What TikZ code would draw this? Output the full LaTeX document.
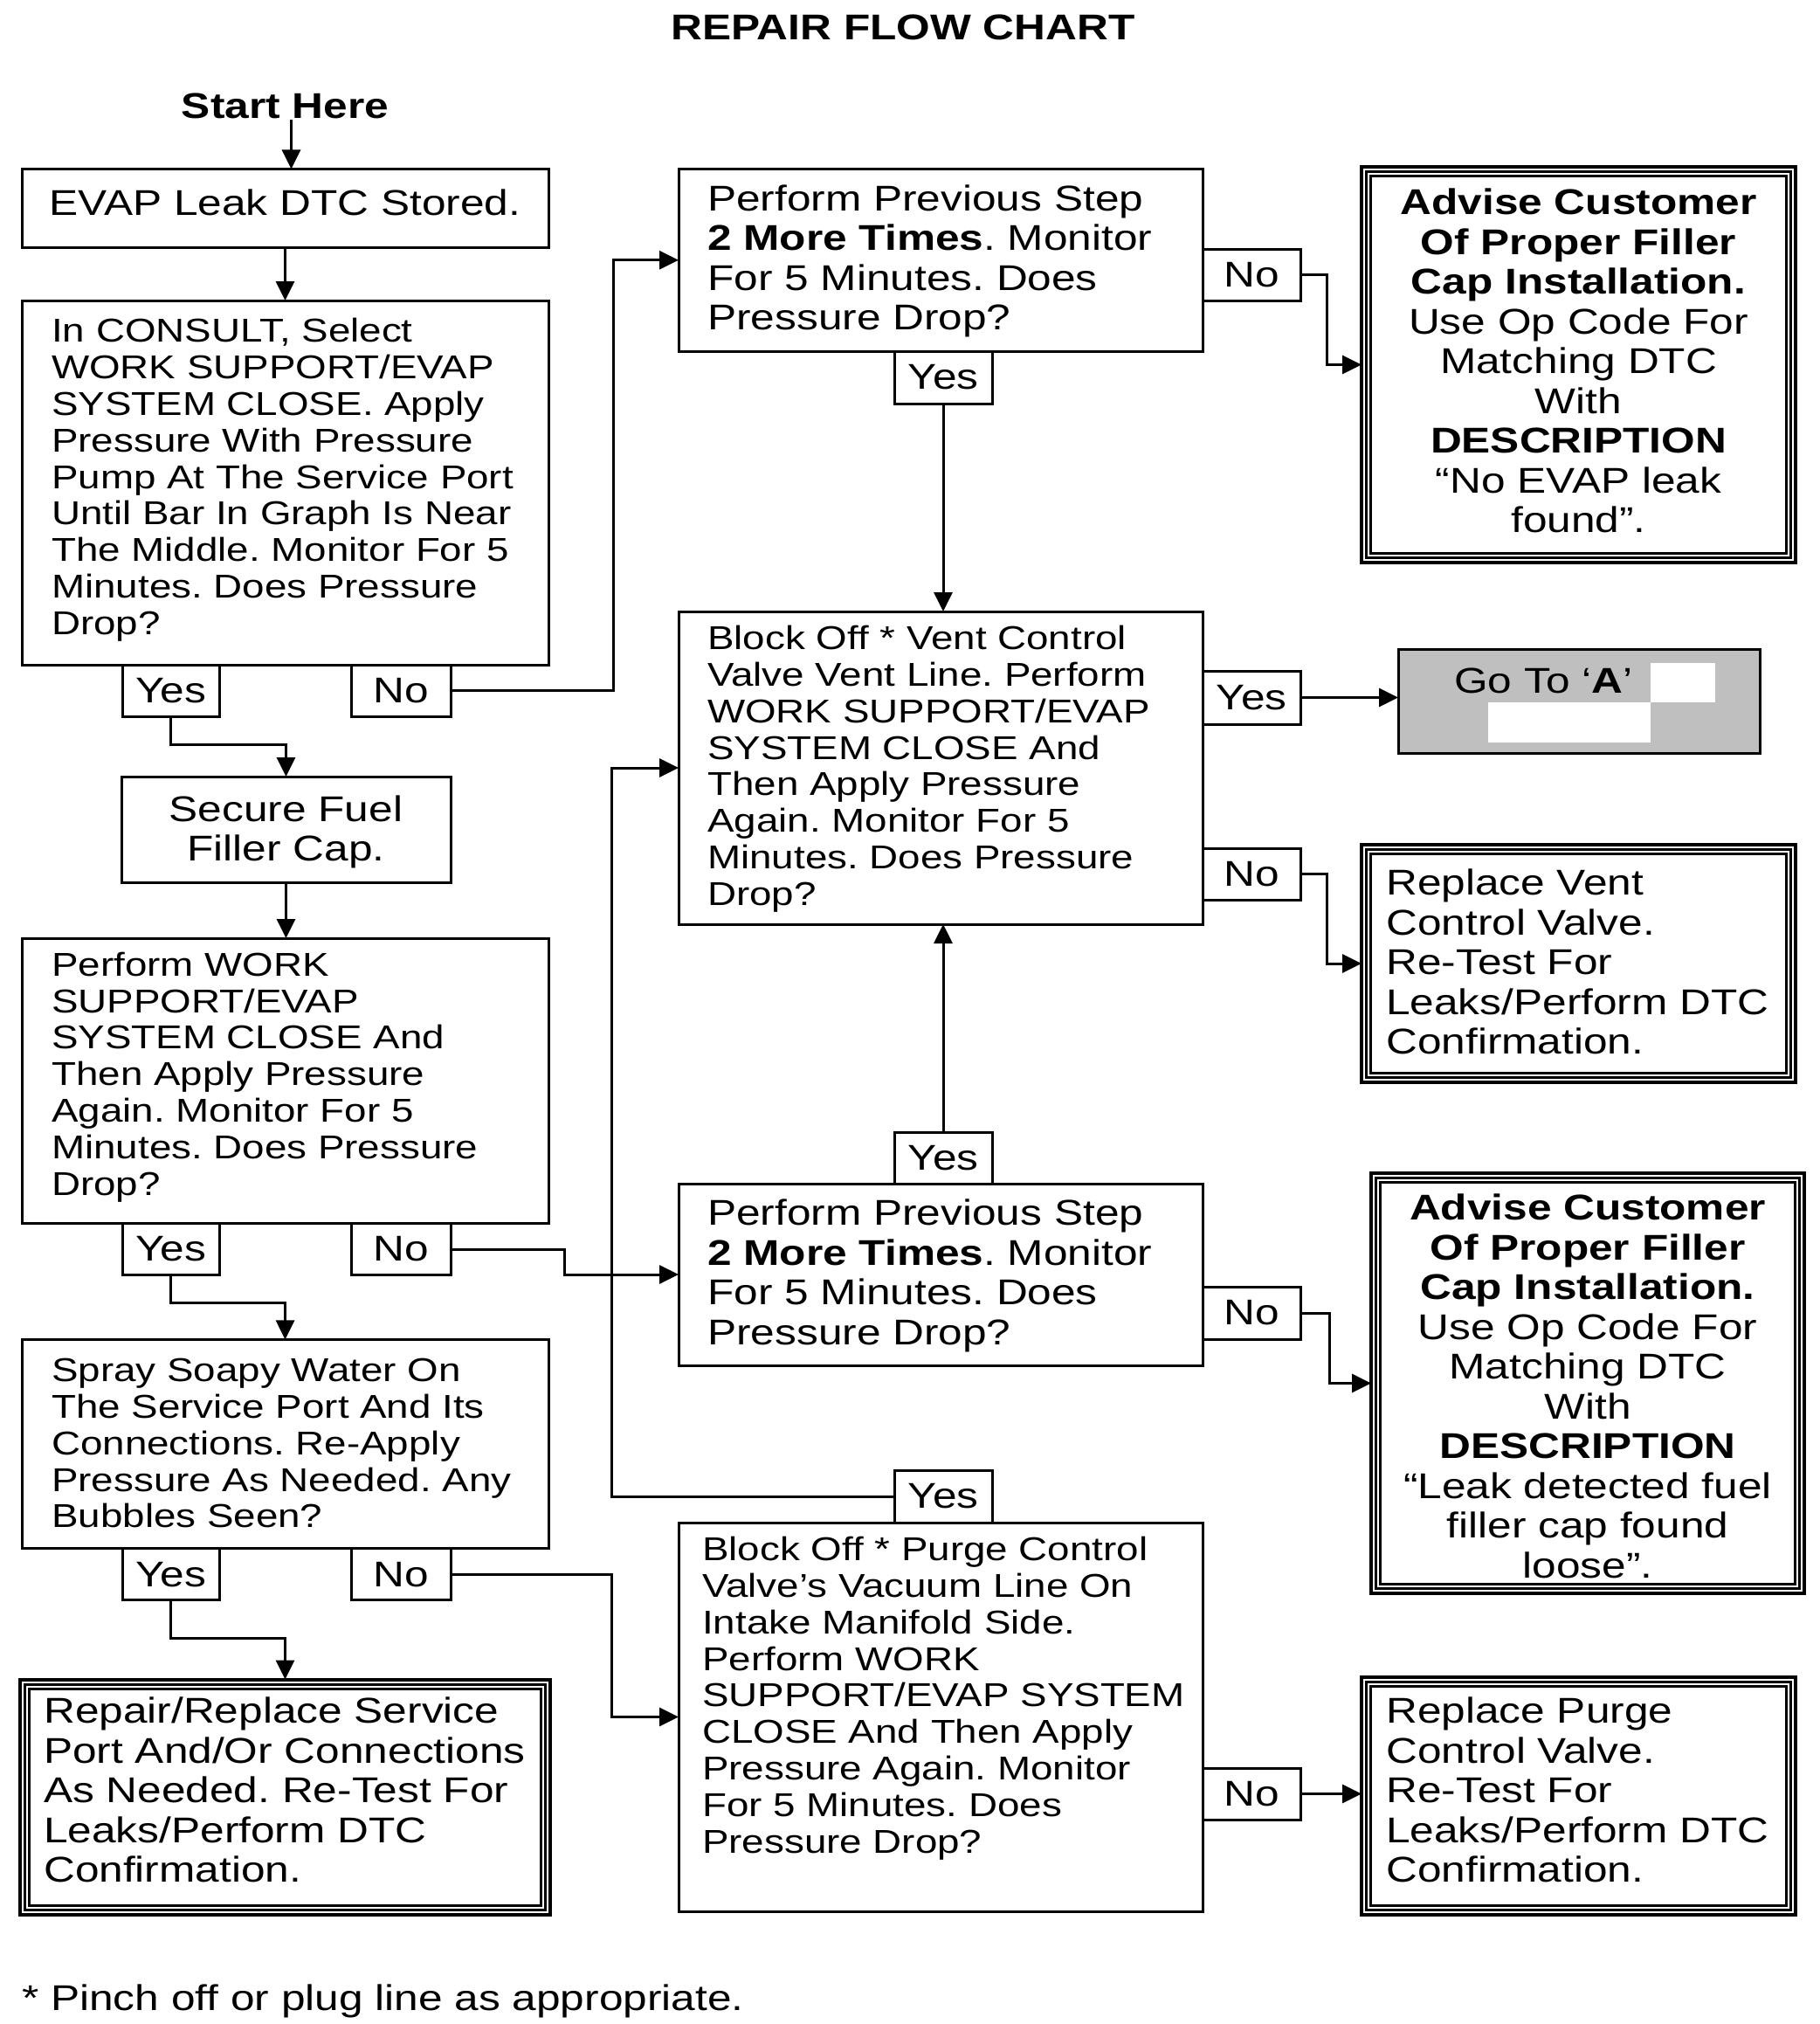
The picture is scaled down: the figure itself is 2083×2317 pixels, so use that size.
\documentclass[tikz,border=0pt]{standalone}
\usepackage{fontspec}
\setmainfont{Liberation Sans}[FakeStretch=1.21]
\usetikzlibrary{arrows.meta}
\definecolor{gotogray}{RGB}{191,191,191}
\newcommand\fbig{\frenchspacing\fontsize{41}{45.5}\selectfont}
\newcommand\fsml{\frenchspacing\fontsize{37.8}{41.8}\selectfont}
\newcommand\innerframes[1]{%
  \draw[line width=3pt] ([shift={(5.5,5.5)}]#1.north west) rectangle ([shift={(-5.5,-5.5)}]#1.south east);
  \draw[line width=3pt] ([shift={(10.5,10.5)}]#1.north west) rectangle ([shift={(-10.5,-10.5)}]#1.south east);}
\frenchspacing
\begin{document}
\begin{tikzpicture}[x=1pt,y=-1pt,
  bx/.style={draw, line width=3pt, inner sep=0pt, outer sep=0pt, anchor=north west},
  dbx/.style={draw, line width=4pt, inner sep=0pt, outer sep=0pt, anchor=north west},
  lbl/.style={draw, line width=3pt, inner sep=0pt, outer sep=0pt, anchor=north west, font=\fbig},
  tb/.style={inner sep=0pt, align=left, font=\fbig, anchor=north west},
  ts/.style={inner sep=0pt, align=left, font=\fsml, anchor=north west},
  tc/.style={inner sep=0pt, align=center, font=\fbig, anchor=north},
  arr/.style={line width=3pt, -{Triangle[length=22pt,width=21pt]}}]
\fill[white] (0,0) rectangle (2083,2317);
\useasboundingbox (0,0) rectangle (2083,2317);

% titles
\node[font=\bfseries\fbig, anchor=base, inner sep=0pt] (title) at (1034,45.8) {REPAIR FLOW CHART};
\node[font=\bfseries\fbig, anchor=base, inner sep=0pt] (start) at (326.5,136) {Start Here};

% left column
\node[bx, minimum width=603, minimum height=90] (evap) at (25,193.5) {};
\node[font=\fbig, anchor=base, inner sep=0pt] (evapT) at (326.5,246.7) {EVAP Leak DTC Stored.};

\node[bx, minimum width=603, minimum height=417] (consult) at (25,344) {};
\node[ts] (consultT) at (59,364.4) {In CONSULT, Select\\WORK SUPPORT/EVAP\\SYSTEM CLOSE. Apply\\Pressure With Pressure\\Pump At The Service Port\\Until Bar In Graph Is Near\\The Middle. Monitor For 5\\Minutes. Does Pressure\\Drop?};
\node[lbl, minimum width=111, minimum height=59] (yesA) at (140,761) {Yes};
\node[lbl, minimum width=114, minimum height=59] (noA) at (402,761) {No};

\node[bx, minimum width=377, minimum height=121.5] (secure) at (139,889) {};
\node[tc] (secureT) at (327.5,910.2) {Secure Fuel\\Filler Cap.};

\node[bx, minimum width=603, minimum height=326.5] (perf) at (25,1074) {};
\node[ts] (perfT) at (59,1089.7) {Perform WORK\\SUPPORT/EVAP\\SYSTEM CLOSE And\\Then Apply Pressure\\Again. Monitor For 5\\Minutes. Does Pressure\\Drop?};
\node[lbl, minimum width=111, minimum height=59] (yesB) at (140,1400.5) {Yes};
\node[lbl, minimum width=114, minimum height=59] (noB) at (402,1400.5) {No};

\node[bx, minimum width=603, minimum height=239.4] (spray) at (25,1533.4) {};
\node[ts] (sprayT) at (59,1555) {Spray Soapy Water On\\The Service Port And Its\\Connections. Re-Apply\\Pressure As Needed. Any\\Bubbles Seen?};
\node[lbl, minimum width=111, minimum height=59] (yesC) at (140,1772.8) {Yes};
\node[lbl, minimum width=114, minimum height=59] (noC) at (402,1772.8) {No};

\node[dbx, minimum width=607, minimum height=269.5] (repair) at (23,1922.5) {};
\innerframes{repair}
\node[tb] (repairT) at (50,1942.6) {Repair/Replace Service\\Port And/Or Connections\\As Needed. Re-Test For\\Leaks/Perform DTC\\Confirmation.};

% middle column
\node[bx, minimum width=600, minimum height=208.5] (prev1) at (777,193.5) {};
\node[tb] (prev1T) at (810,211.4) {Perform Previous Step\\\textbf{2 More Times}. Monitor\\For 5 Minutes. Does\\Pressure Drop?};
\node[lbl, minimum width=112, minimum height=59] (noP1) at (1377,285) {No};
\node[lbl, minimum width=112, minimum height=60] (yesP1) at (1024,402) {Yes};

\node[bx, minimum width=600, minimum height=358] (vent) at (777,700) {};
\node[ts] (ventT) at (810,716) {Block Off * Vent Control\\Valve Vent Line. Perform\\WORK SUPPORT/EVAP\\SYSTEM CLOSE And\\Then Apply Pressure\\Again. Monitor For 5\\Minutes. Does Pressure\\Drop?};
\node[lbl, minimum width=112, minimum height=61] (yesV) at (1377,768) {Yes};
\node[lbl, minimum width=112, minimum height=59] (noV) at (1377,971) {No};

\node[bx, minimum width=600, minimum height=208] (prev2) at (777,1355) {};
\node[tb] (prev2T) at (810,1372.6) {Perform Previous Step\\\textbf{2 More Times}. Monitor\\For 5 Minutes. Does\\Pressure Drop?};
\node[lbl, minimum width=112, minimum height=59] (yesP2) at (1024,1296) {Yes};
\node[lbl, minimum width=112, minimum height=60] (noP2) at (1377,1473) {No};

\node[bx, minimum width=600, minimum height=445] (purge) at (777,1743) {};
\node[ts] (purgeT) at (804,1759) {Block Off * Purge Control\\Valve’s Vacuum Line On\\Intake Manifold Side.\\Perform WORK\\SUPPORT/EVAP SYSTEM\\CLOSE And Then Apply\\Pressure Again. Monitor\\For 5 Minutes. Does\\Pressure Drop?};
\node[lbl, minimum width=112, minimum height=60] (yesPu) at (1024,1683) {Yes};
\node[lbl, minimum width=112, minimum height=59] (noPu) at (1377,2024) {No};

% right column
\node[dbx, minimum width=497, minimum height=453] (adv1) at (1559,191) {};
\innerframes{adv1}
\node[tc] (adv1T) at (1807.5,215.6) {\textbf{Advise Customer}\\\textbf{Of Proper Filler}\\\textbf{Cap Installation.}\\Use Op Code For\\Matching DTC\\With\\\textbf{DESCRIPTION}\\“No EVAP leak\\found”.};

\node[bx, fill=gotogray, minimum width=414, minimum height=119] (goto) at (1601,743) {};
\fill[white] (1890,759) rectangle (1964,804);
\fill[white] (1704,804) rectangle (1890,850);
\node[font=\fbig, anchor=base west, inner sep=0pt] (gotoT) at (1665,793) {Go To ‘\textbf{A}’};

\node[dbx, minimum width=497, minimum height=272] (rvent) at (1559,967) {};
\innerframes{rvent}
\node[tb] (rventT) at (1587,994.6) {Replace Vent\\Control Valve.\\Re-Test For\\Leaks/Perform DTC\\Confirmation.};

\node[dbx, minimum width=496, minimum height=481] (adv2) at (1570,1343) {};
\innerframes{adv2}
\node[tc] (adv2T) at (1818,1366.6) {\textbf{Advise Customer}\\\textbf{Of Proper Filler}\\\textbf{Cap Installation.}\\Use Op Code For\\Matching DTC\\With\\\textbf{DESCRIPTION}\\“Leak detected fuel\\filler cap found\\loose”.};

\node[dbx, minimum width=497, minimum height=272.5] (rpurge) at (1559,1919.5) {};
\innerframes{rpurge}
\node[tb] (rpurgeT) at (1587,1942.6) {Replace Purge\\Control Valve.\\Re-Test For\\Leaks/Perform DTC\\Confirmation.};

% footnote
\node[font=\fbig, anchor=base west, inner sep=0pt] (foot) at (25,2301) {* Pinch off or plug line as appropriate.};

% connectors
\coordinate (st) at ([xshift=7pt]start.south);
\draw[arr] (st) -- (st |- evap.north);
\draw[arr] (evap.south) -- (consult.north);
\draw[arr] (yesA.south) -- ++(0,32) -| (secure.north);
\draw[arr] (noA.east) -- ++(186,0) |- (prev1.west);
\draw[arr] (secure.south) -- (secure.south |- perf.north);
\draw[arr] (yesB.south) -- ++(0,32) -| (spray.north);
\draw[arr] (noB.east) -- ++(130,0) |- (prev2.west);
\draw[arr] (yesC.south) -- ++(0,44) -| (repair.north);
\draw[arr] (noC.east) -- ++(184,0) |- (purge.west);
\draw[arr] (noP1.east) -- ++(30,0) |- (adv1.west);
\draw[arr] (yesP1.south) -- (yesP1.south |- vent.north);
\draw[arr] (yesV.east) -- (yesV.east -| goto.west);
\draw[arr] (noV.east) -- ++(30,0) |- (rvent.west);
\draw[arr] (yesP2.north) -- (yesP2.north |- vent.south);
\draw[arr] (noP2.east) -- ++(33,0) |- (adv2.west);
\draw[arr] (yesPu.west) -- ++(-324,0) |- (vent.west);
\draw[arr] (noPu.east) -- (noPu.east -| rpurge.west);
\end{tikzpicture}
\end{document}
